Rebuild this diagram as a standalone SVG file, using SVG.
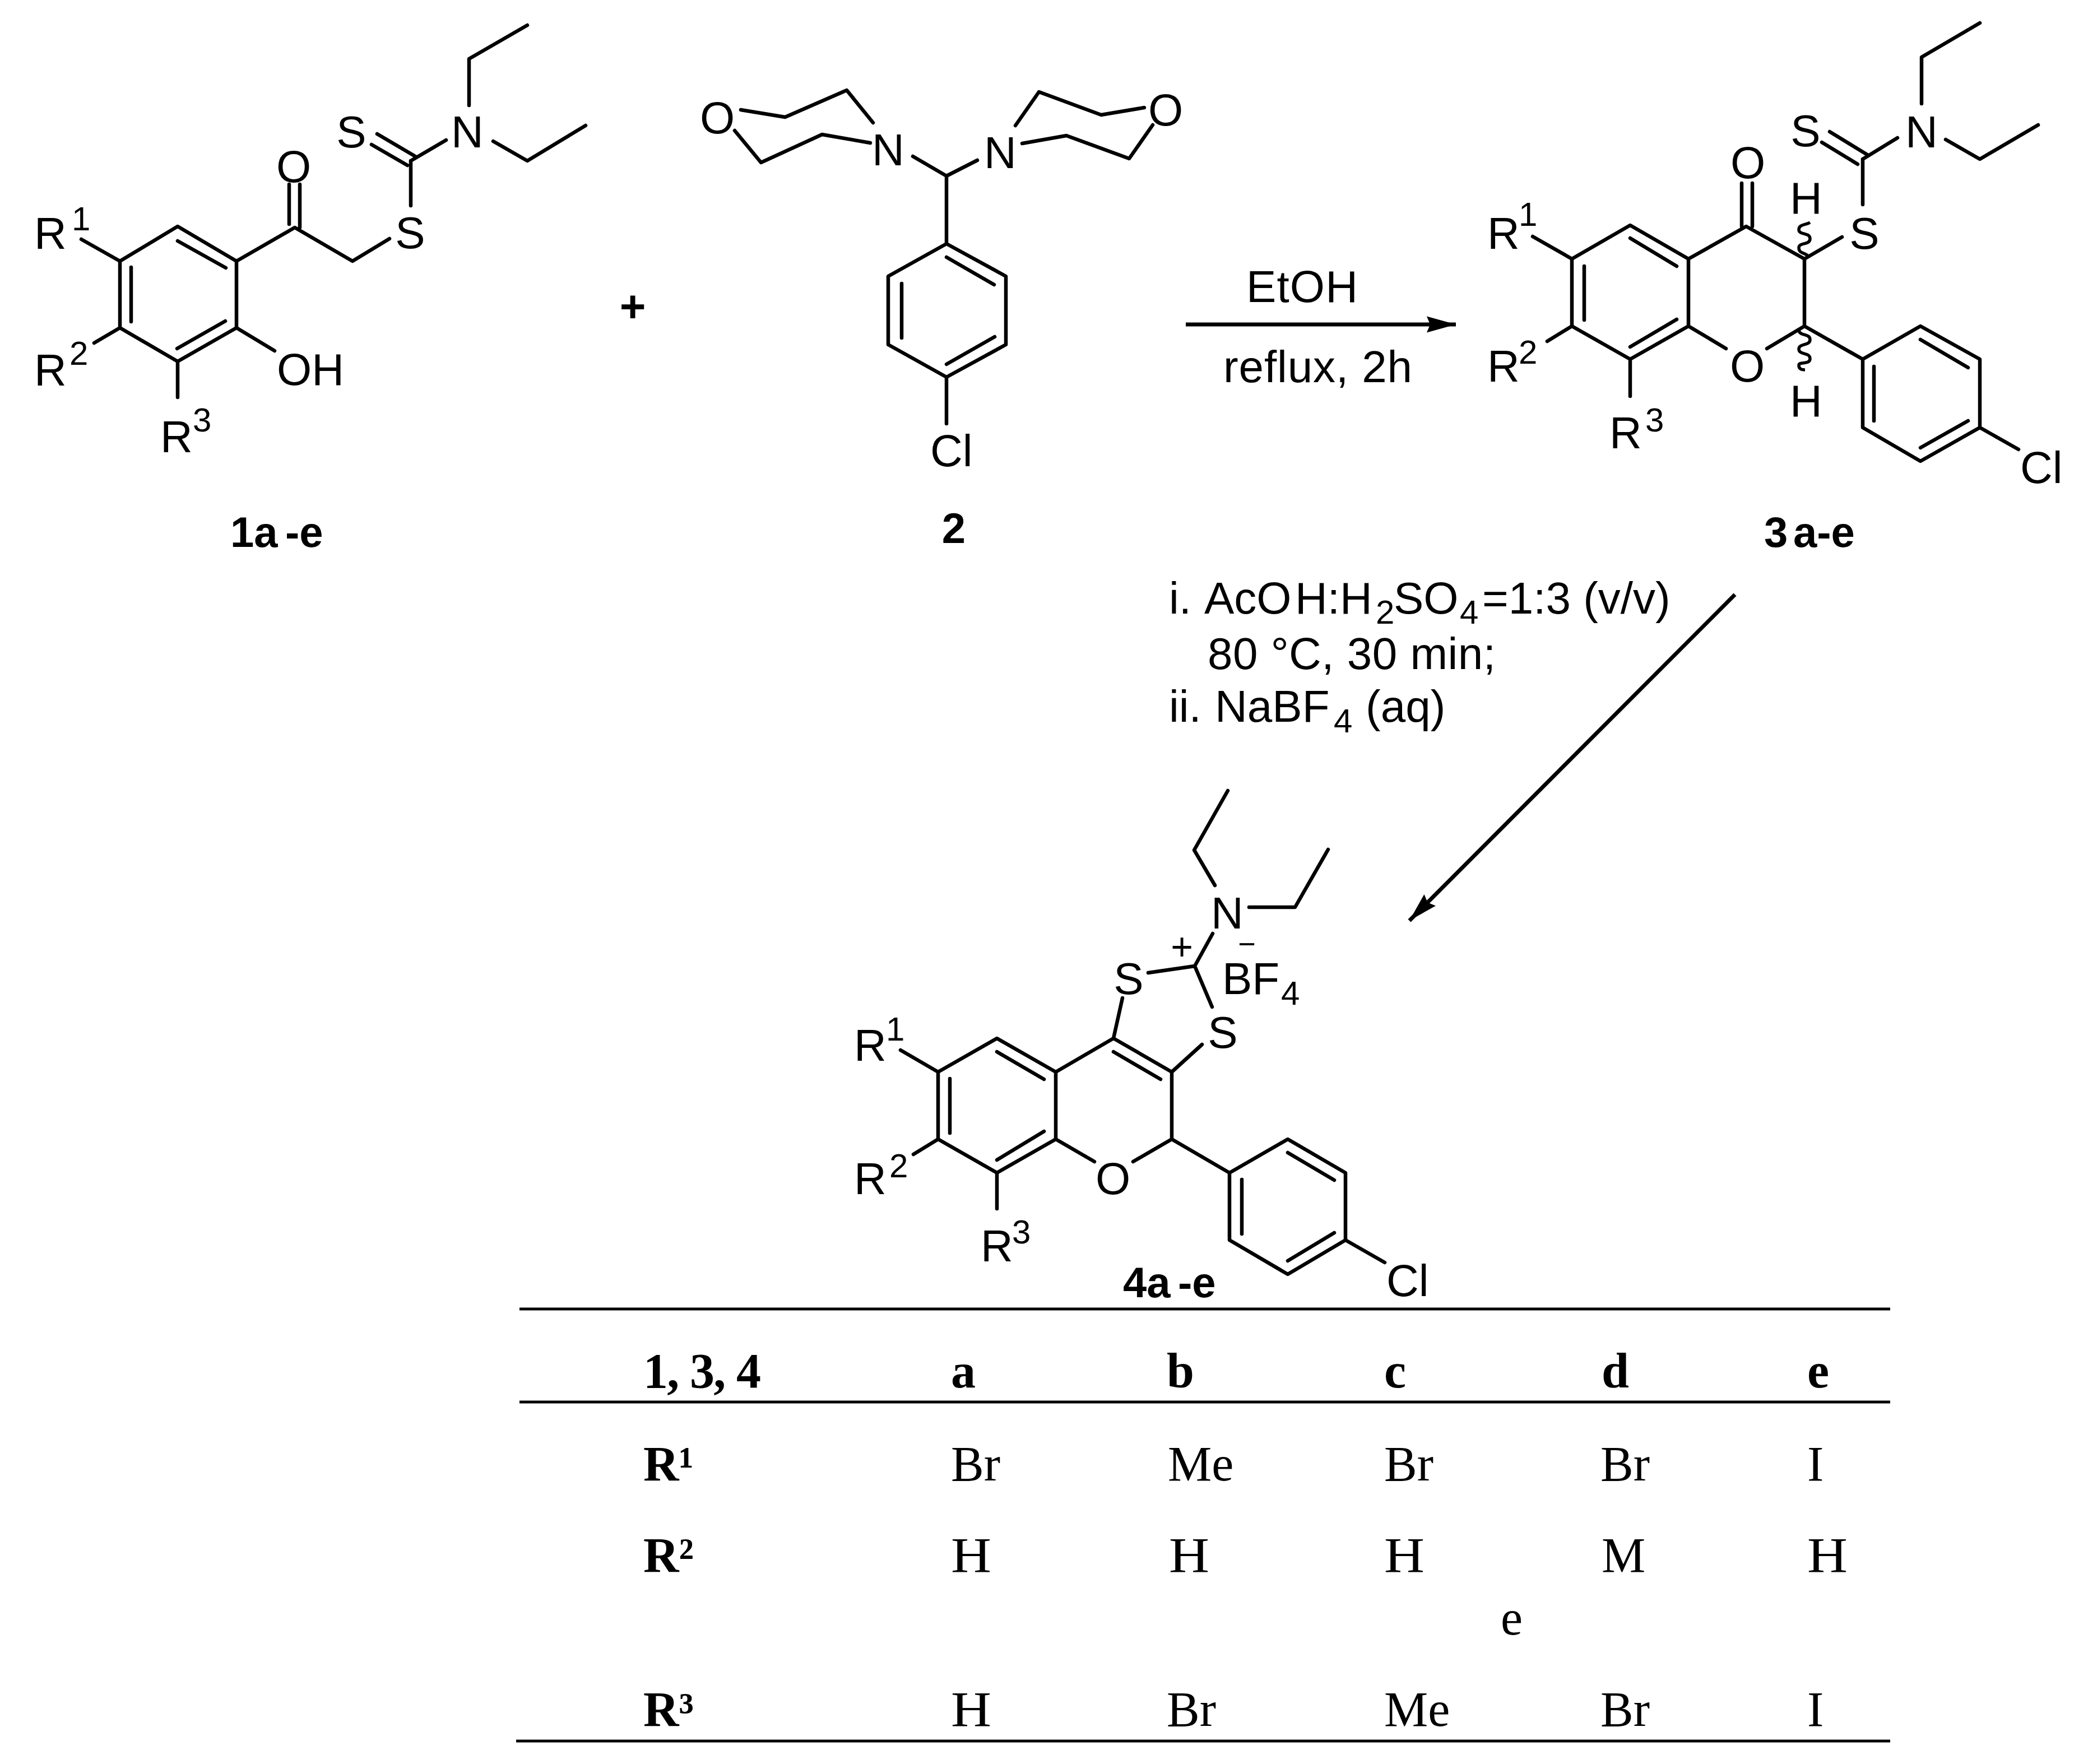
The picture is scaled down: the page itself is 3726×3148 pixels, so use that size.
<svg xmlns="http://www.w3.org/2000/svg" width="3726" height="3148" viewBox="0 0 3726 3148">
<style>
text{font-family:"Liberation Sans",Arial,sans-serif;fill:#000}
.a{font-size:80px}
.s{font-size:60px}
.c{font-size:60px}
.m{text-anchor:middle}
.b{font-size:76px;font-weight:700}
.t{font-family:"Liberation Serif","Times New Roman",serif;font-size:88px}
.h{font-weight:700}
.bond{fill:none;stroke:#000;stroke-width:6.5;stroke-linecap:round;stroke-linejoin:round}
.wavy{fill:none;stroke:#000;stroke-width:5.5;stroke-linecap:butt}
.rule{stroke:#000;stroke-width:5;fill:none}
.arrow{stroke:#000;stroke-width:7;fill:none}
</style>
<defs>
<marker id="head" markerUnits="userSpaceOnUse" markerWidth="60" markerHeight="36" refX="52" refY="18" orient="auto">
<path d="M0,3.5 L52,18 L0,32.5 L6,18 Z" fill="#000"/>
</marker>
</defs>
<rect width="3726" height="3148" fill="#fff"/>

<g id="compound-1">
<path class="bond" d="M317,404 L422,466 L422,585 L317,645 L214,585 L214,466 Z M317,430 L403,478 M234,477 L234,574 M316,622 L402,573 M145,427 L214,466 M168,612 L214,585 M317,645 L317,709 M422,585 L490,626 M422,466 L526,406 L629,466 L695,426 M516,329 L516,400 M535,329 L535,406 M733,287 L733,367 M663,258 L727,295 M673,239 L741,279 M733,287 L796,250 M837,188 L837,105 L941,45 M880,252 L941,287 L1045,224"/>
<text class="a m" x="524" y="325">O</text>
<text class="a m" x="627" y="263">S</text>
<text class="a m" x="834" y="263">N</text>
<text class="a m" x="732" y="443">S</text>
<text class="a" x="494" y="687">OH</text>
<text class="a" x="61" y="444">R</text><text class="s" x="128" y="411">1</text>
<text class="a" x="61" y="688">R</text><text class="s" x="124" y="651">2</text>
<text class="a" x="286" y="807">R</text><text class="s" x="344" y="770">3</text>
<text class="b" y="976"><tspan x="411">1a</tspan><tspan x="509">-e</tspan></text>
</g>

<g id="plus"><text class="a m h" x="1129" y="574">+</text></g>

<g id="compound-2">
<path class="bond" d="M1322,196 L1401,209 L1511,161 L1558,219 M1311,233 L1358,290 L1467,240 L1553,255 M1812,224 L1854,164 L1965,205 L2042,192 M1824,256 L1903,242 L2015,283 L2057,223 M1629,279 L1689,314 L1744,286 M1689,314 L1689,435 L1795,493 L1795,615 L1689,673 L1585,615 L1585,493 L1689,435 M1689,459 L1774,508 M1609,506 L1609,603 M1689,650 L1775,601 M1689,673 L1689,756"/>
<text class="a m" x="1280" y="238">O</text>
<text class="a m" x="1585" y="295">N</text>
<text class="a m" x="1785" y="300">N</text>
<text class="a m" x="2080" y="224">O</text>
<text class="a" x="1660" y="832">Cl</text>
<text class="b m" x="1702" y="969">2</text>
</g>

<g id="compound-3">
<path class="bond" d="M2909,402 L3013,462 L3013,582 L2909,641 L2805,582 L2805,462 Z M2909,425 L2992,475 M2827,475 L2827,571 M2909,619 L2992,570 M2735,422 L2805,462 M2761,609 L2805,582 M2909,641 L2909,707 M3013,462 L3116,404 L3220,462 L3220,582 M3108,327 L3108,404 M3127,327 L3127,404 M3220,462 L3287,423 M3153,622 L3220,582 L3324,641 M3080,622 L3013,582 M3324,641 L3427,582 L3533,641 L3533,763 L3427,823 L3324,763 Z M3427,606 L3512,656 M3344,654 L3344,751 M3427,799 L3512,751 M3533,763 L3602,802 M3324,284 L3324,365 M3251,254 L3315,293 M3265,235 L3332,276 M3324,284 L3386,246 M3429,185 L3429,102 L3533,41 M3472,249 L3533,284 L3637,223"/>
<path class="wavy" d="M3226,456 C3218,450 3210,452 3210,442 C3210,432 3230,438 3230,426 C3230,414 3210,420 3210,410 C3210,400 3222,402 3230,397"/>
<path class="wavy" d="M3210,590 C3212,600 3230,595 3230,606 C3230,618 3210,612 3210,623 C3210,634 3230,628 3230,640 C3230,652 3210,644 3210,652 C3210,658 3214,660 3221,660"/>
<text class="a m" x="3119" y="318">O</text>
<text class="a m" x="3223" y="381">H</text>
<text class="a m" x="3118" y="681">O</text>
<text class="a m" x="3223" y="743">H</text>
<text class="a m" x="3222" y="261">S</text>
<text class="a m" x="3327" y="444">S</text>
<text class="a m" x="3429" y="263">N</text>
<text class="a" x="3605" y="862">Cl</text>
<text class="a" x="2654" y="444">R</text><text class="s" x="2710" y="403">1</text>
<text class="a" x="2654" y="681">R</text><text class="s" x="2710" y="649">2</text>
<text class="a" x="2872" y="800">R</text><text class="s" x="2936" y="770">3</text>
<text class="b" y="976"><tspan x="3148">3</tspan><tspan x="3200">a-e</tspan></text>
</g>

<g id="compound-4">
<path class="bond" d="M1779,1853 L1884,1913 L1884,2033 L1779,2093 L1674,2033 L1674,1913 Z M1779,1877 L1863,1926 M1695,1925 L1695,2022 M1779,2070 L1863,2019 M1607,1874 L1674,1913 M1630,2060 L1674,2033 M1779,2093 L1779,2157 M1884,1913 L1987,1853 L2091,1913 L2091,2033 M1987,1877 L2071,1926 M1884,2033 L1953,2073 M2022,2073 L2091,2033 L2194,2093 M2194,2093 L2298,2033 L2401,2093 L2401,2213 L2298,2274 L2194,2213 Z M2298,2057 L2381,2106 M2216,2105 L2216,2202 M2298,2250 L2381,2200 M2401,2213 L2471,2253 M1987,1853 L2003,1781 M2091,1913 L2145,1864 M2049,1736 L2132,1724 L2163,1797 M2132,1724 L2164,1666 M2168,1580 L2131,1517 L2191,1411 M2229,1619 L2311,1619 L2370,1516"/>
<text class="a m" x="2014" y="1774">S</text>
<text class="a m" x="2182" y="1870">S</text>
<text class="a m" x="2190" y="1657">N</text>
<text class="a m" x="1986" y="2131">O</text>
<text class="m" x="2109" y="1713" style="font-size:68px">+</text>
<text class="m" x="2225" y="1703" style="font-size:54px">−</text>
<text class="a" x="2181" y="1774">BF</text><text class="s" x="2286" y="1793">4</text>
<text class="a" x="2474" y="2313">Cl</text>
<text class="a" x="1524" y="1893">R</text><text class="s" x="1581" y="1857">1</text>
<text class="a" x="1524" y="2131">R</text><text class="s" x="1587" y="2101">2</text>
<text class="a" x="1750" y="2251">R</text><text class="s" x="1806" y="2219">3</text>
<text class="b" y="2315"><tspan x="2004">4a</tspan><tspan x="2102">-e</tspan></text>
</g>

<g id="connectors">
<line class="arrow" x1="2116" y1="579" x2="2598" y2="579" marker-end="url(#head)"/>
<line class="arrow" x1="3096" y1="1061" x2="2515" y2="1643" marker-end="url(#head)"/>
</g>

<g id="conditions-1">
<text class="a" x="2224" y="539" textLength="199">EtOH</text>
<text class="a" x="2183" y="682" textLength="337">reflux, 2h</text>
</g>

<g id="conditions-2">
<text class="a" y="1095"><tspan x="2086">i.</tspan><tspan x="2149">AcO</tspan><tspan x="2311">H:H</tspan></text>
<text class="c" x="2455" y="1113">2</text>
<text class="a" x="2487" y="1095">SO</text>
<text class="c" x="2605" y="1113">4</text>
<text class="a" x="2645" y="1095">=1:3 (v/v)</text>
<text class="a" x="2155" y="1194" textLength="514">80 °C, 30 min;</text>
<text class="a" x="2086" y="1288">ii.</text>
<text class="a" x="2168" y="1288">NaBF</text>
<text class="c" x="2380" y="1307">4</text>
<text class="a" x="2437" y="1288">(aq)</text>
</g>

<g id="table">
<line class="rule" x1="927" y1="2336" x2="3373" y2="2336"/>
<line class="rule" x1="927" y1="2502" x2="3373" y2="2502"/>
<line class="rule" x1="921" y1="3107" x2="3373" y2="3107"/>
<text class="t h" x="1148" y="2476" textLength="210">1, 3, 4</text>
<text class="t h" x="1697" y="2476">a</text>
<text class="t h" x="2082" y="2476">b</text>
<text class="t h" x="2470" y="2476">c</text>
<text class="t h" x="2858" y="2476">d</text>
<text class="t h" x="3225" y="2476">e</text>
<text class="t h" x="1148" y="2642">R¹</text>
<text class="t" x="1697" y="2642">Br</text>
<text class="t" x="2084" y="2642">Me</text>
<text class="t" x="2470" y="2642">Br</text>
<text class="t" x="2856" y="2642">Br</text>
<text class="t" x="3225" y="2642">I</text>
<text class="t h" x="1148" y="2805">R²</text>
<text class="t" x="1697" y="2805" textLength="72" lengthAdjust="spacingAndGlyphs">H</text>
<text class="t" x="2086" y="2805" textLength="72" lengthAdjust="spacingAndGlyphs">H</text>
<text class="t" x="2470" y="2805" textLength="72" lengthAdjust="spacingAndGlyphs">H</text>
<text class="t" x="2858" y="2805">M</text>
<text class="t" x="3225" y="2805" textLength="72" lengthAdjust="spacingAndGlyphs">H</text>
<text class="t" x="2678" y="2917">e</text>
<text class="t h" x="1148" y="3080">R³</text>
<text class="t" x="1697" y="3080" textLength="72" lengthAdjust="spacingAndGlyphs">H</text>
<text class="t" x="2082" y="3080">Br</text>
<text class="t" x="2470" y="3080">Me</text>
<text class="t" x="2856" y="3080">Br</text>
<text class="t" x="3225" y="3080">I</text>
</g>
</svg>
